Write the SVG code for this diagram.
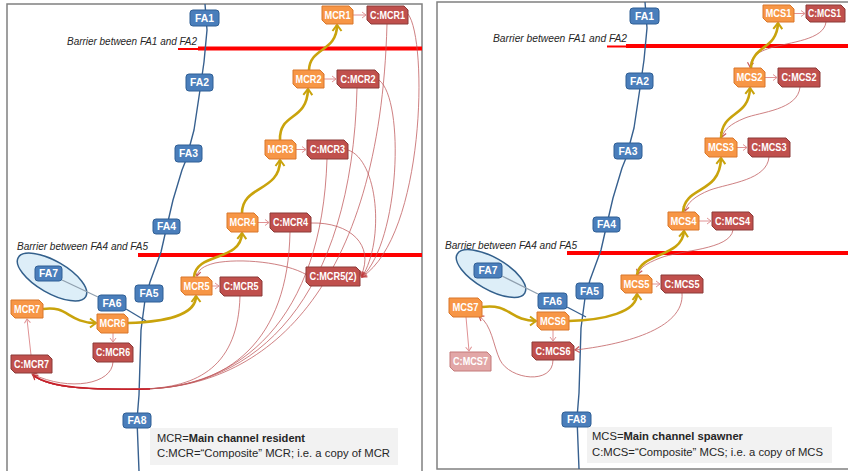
<svg xmlns="http://www.w3.org/2000/svg" width="848" height="471" viewBox="0 0 848 471">
<defs>
<style>
.frame{fill:#fff;stroke:#808080;stroke-width:1.5}
.fa rect{fill:#4a7ebb;stroke:#2f5f95;stroke-width:1}
.fa text,.mc text,.cc text{font-family:"Liberation Sans",Arial,sans-serif;font-weight:bold;font-size:10.5px;fill:#fff;text-anchor:middle}
.mc path{fill:#f79646;stroke:#d9772a;stroke-width:1;stroke-linejoin:round}
.cc path{fill:#c0504d;stroke:#8b3a38;stroke-width:1;stroke-linejoin:round}
.cc.light path{fill:#e2a7a7;stroke:#c47b7b}
.bar{font-family:"Liberation Sans",Arial,sans-serif;font-style:italic;font-size:10.5px;fill:#262626}
.red{stroke:#ff0000;stroke-width:4;fill:none}
.redthin{stroke:#ff0000;stroke-width:2;fill:none}
.main{fill:none;stroke:#37608f;stroke-width:1.4;stroke-linejoin:round}
.ell{fill:#ddeef8;stroke:#33608c;stroke-width:1.5}
.gray{stroke:#8f9fae;stroke-width:1.2}
.yel{fill:none;stroke:#c9a30c;stroke-width:2.6;marker-end:url(#ay)}
.pk{fill:none;stroke:#e09294;stroke-width:1;marker-end:url(#ap)}
.rd{fill:none;stroke:#c05a5c;stroke-width:0.9;opacity:0.85}
.rda{fill:none;stroke:#c05a5c;stroke-width:0.9;opacity:0.85;marker-end:url(#ar)}
.leg{fill:#f2f2f2}
.lt{font-family:"Liberation Sans",Arial,sans-serif;font-size:11.5px;fill:#262626}
</style>
<marker id="ay" viewBox="-8 -6 10 12" refX="0" refY="0" markerWidth="10" markerHeight="12" markerUnits="userSpaceOnUse" orient="auto">
<path d="M-6,-4.5 L0,0 L-6,4.5" fill="none" stroke="#c9a30c" stroke-width="2"/>
</marker>
<marker id="ap" viewBox="-6 -4 8 8" refX="0" refY="0" markerWidth="8" markerHeight="8" markerUnits="userSpaceOnUse" orient="auto">
<path d="M-4,-3 L0,0 L-4,3" fill="none" stroke="#e09294" stroke-width="1"/>
</marker>
<marker id="ar" viewBox="-6 -4 8 8" refX="0" refY="0" markerWidth="8" markerHeight="8" markerUnits="userSpaceOnUse" orient="auto">
<path d="M-4.5,-3 L0,0 L-4.5,3" fill="none" stroke="#c03a3c" stroke-width="1.2"/>
</marker>
</defs>

<!-- frames -->
<rect class="frame" x="7" y="4" width="415" height="480"/>
<rect class="frame" x="437" y="2" width="420" height="467"/>

<!-- legends -->
<g id="legend-left">
<rect class="leg" x="150" y="428" width="248" height="37"/>
<text class="lt" x="157" y="442" textLength="148" lengthAdjust="spacingAndGlyphs">MCR=<tspan font-weight="bold">Main channel resident</tspan></text>
<text class="lt" x="157" y="457" textLength="233" lengthAdjust="spacingAndGlyphs">C:MCR=“Composite” MCR; i.e. a copy of MCR</text>
</g>
<g id="legend-right">
<rect class="leg" x="587" y="427" width="245" height="36"/>
<text class="lt" x="592" y="440" textLength="151" lengthAdjust="spacingAndGlyphs">MCS=<tspan font-weight="bold">Main channel spawner</tspan></text>
<text class="lt" x="592" y="456" textLength="231" lengthAdjust="spacingAndGlyphs">C:MCS=“Composite” MCS; i.e. a copy of MCS</text>
</g>

<!-- barriers -->
<g id="barriers">
<text class="bar" x="67" y="45" textLength="130" lengthAdjust="spacingAndGlyphs">Barrier between FA1 and FA2</text>
<path class="redthin" d="M178,49 H200"/>
<path class="red" d="M198,48.5 H422"/>
<text class="bar" x="17" y="250" textLength="131" lengthAdjust="spacingAndGlyphs">Barrier between FA4 and FA5</text>
<path class="red" d="M138,255 H422"/>
<text class="bar" x="493" y="42" textLength="134" lengthAdjust="spacingAndGlyphs">Barrier between FA1 and FA2</text>
<path class="redthin" d="M607,46.5 H628"/>
<path class="red" d="M626,46 H848"/>
<text class="bar" x="445" y="249" textLength="132" lengthAdjust="spacingAndGlyphs">Barrier between FA4 and FA5</text>
<path class="red" d="M567,253 H848"/>
</g>

<!-- ellipses -->
<ellipse class="ell" cx="52" cy="277" rx="39" ry="16" transform="rotate(30 52 277)"/>
<ellipse class="ell" cx="491" cy="273.5" rx="39" ry="16" transform="rotate(30 491 273.5)"/>

<g id="connectors">
<!-- FA lines -->
<path class="main" d="M205,4 L207,30 L204,62 L200,90 L194,130 L186,160 L182,170 L173,200 L166,230 L161,252 L150,282 L145,300 L141,330 L139,395 L137,420 L139,471"/>
<path class="main" d="M645,2 L647,28 L644,60 L640,88 L634,128 L626,158 L622,168 L613,198 L606,228 L601,250 L590,280 L585,298 L581,328 L579,393 L577,418 L579,469"/>
<path class="gray" d="M62,280 L98,297"/>
<path class="main" d="M126,309 L146,321"/>
<path class="gray" d="M502,276 L538,294"/>
<path class="main" d="M567,307 L586,317"/>

<!-- left thin red curves -->
<path class="rd" d="M240,296 C238,365 200,388 140,389 C90,390 50,388 34,376"/>
<path class="rd" d="M290,232 C288,340 230,389 140,389 C90,390 50,388 34,376"/>
<path class="rd" d="M327,159 C322,320 240,389 140,389 C90,390 50,388 34,376"/>
<path class="rd" d="M357,88 C352,300 255,389 140,389 C90,390 50,388 34,376"/>
<path class="rd" d="M387,24 C380,290 265,389 140,389 C90,390 50,388 34,376"/>
<path class="rda" d="M113,362 C112,384 70,392 32,374"/>
<path fill="none" stroke="#c8202a" stroke-width="1.6" d="M150,389 C90,390 50,388 33,375" marker-end="url(#ar)"/>
<path class="rda" d="M311,223 C350,222 375,245 361,276"/>
<path class="rda" d="M348,150 C378,160 385,240 362,277"/>
<path class="rda" d="M379,80 C405,100 400,240 362,277"/>
<path class="rda" d="M408,14 C428,40 425,235 362,277"/>
<path class="rda" d="M307,275 C285,262 240,258 215,263 C203,266 198,270 197,276"/>

<!-- right thin red curves -->
<path class="rda" d="M826,22 C824,40 790,42 770,48 C755,53 751,58 750,67"/>
<path class="rda" d="M800,87 C798,110 760,112 745,118 C730,124 724,130 722,137"/>
<path class="rda" d="M769,157 C767,180 730,183 710,190 C695,196 687,203 685,211"/>
<path class="rda" d="M733,230 C730,250 680,250 660,258 C645,264 640,268 638,274"/>
<path class="rda" d="M682,293 C685,330 620,345 575,350"/>
<path class="rda" d="M553,360 C553,385 510,380 500,360 C493,345 492,325 479,316"/>

<!-- pink short arrows -->
<path class="pk" d="M353,15 L366,15"/>
<path class="pk" d="M324,79 L336,79"/>
<path class="pk" d="M296,149.5 L306,149.5"/>
<path class="pk" d="M258,222.5 L269,222.5"/>
<path class="pk" d="M212,286 L219,286"/>
<path class="pk" d="M113,333 L113,342"/>
<path class="pk" d="M31,355 L27,319"/>
<path class="pk" d="M794,13.5 L805,13.5"/>
<path class="pk" d="M765,77.5 L777,77.5"/>
<path class="pk" d="M737,147.5 L747,147.5"/>
<path class="pk" d="M699,221 L711,221"/>
<path class="pk" d="M652,284 L660,284"/>
<path class="pk" d="M553,330 L553,341"/>
<path class="pk" d="M466,317 L469,351"/>

<!-- yellow main arrows -->
<path class="yel" d="M43,309 C68,305 68,323 96,323"/>
<path class="yel" d="M128,323 C165,322 196,315 196,296"/>
<path class="yel" d="M194,277 C196,252 241,262 242,233"/>
<path class="yel" d="M242,213 C242,185 280,192 280,160"/>
<path class="yel" d="M280,140 C279,112 307,122 308,89"/>
<path class="yel" d="M309,70 C310,47 337,52 337,25"/>
<path class="yel" d="M482,307 C510,303 510,321 536,321"/>
<path class="yel" d="M569,321 C605,320 637,312 637,294"/>
<path class="yel" d="M637,275 C640,252 682,258 684,231"/>
<path class="yel" d="M683,212 C685,185 720,195 721,158"/>
<path class="yel" d="M721,138 C722,110 749,118 750,88"/>
<path class="yel" d="M751,68 C752,45 777,50 778,23"/>
</g>

<!-- FA nodes left -->
<g id="L-FA1" class="fa"><rect x="190" y="10" width="29" height="16" rx="3"/><text x="204.5" y="21.8" textLength="19" lengthAdjust="spacingAndGlyphs">FA1</text></g>
<g id="L-FA2" class="fa"><rect x="186" y="74" width="27" height="17" rx="3"/><text x="199.5" y="86.3" textLength="19" lengthAdjust="spacingAndGlyphs">FA2</text></g>
<g id="L-FA3" class="fa"><rect x="175" y="145" width="27" height="17" rx="3"/><text x="188.5" y="157.3" textLength="19" lengthAdjust="spacingAndGlyphs">FA3</text></g>
<g id="L-FA4" class="fa"><rect x="153" y="219" width="27" height="15" rx="3"/><text x="166.5" y="230.3" textLength="19" lengthAdjust="spacingAndGlyphs">FA4</text></g>
<g id="L-FA5" class="fa"><rect x="135" y="285" width="28" height="17" rx="3"/><text x="149" y="297.3" textLength="19" lengthAdjust="spacingAndGlyphs">FA5</text></g>
<g id="L-FA6" class="fa"><rect x="98" y="295" width="28" height="16" rx="3"/><text x="112" y="306.8" textLength="19" lengthAdjust="spacingAndGlyphs">FA6</text></g>
<g id="L-FA7" class="fa"><rect x="35" y="266" width="27" height="15" rx="3"/><text x="48.5" y="277.3" textLength="19" lengthAdjust="spacingAndGlyphs">FA7</text></g>
<g id="L-FA8" class="fa"><rect x="123" y="413" width="28" height="15" rx="3"/><text x="137" y="424.3" textLength="19" lengthAdjust="spacingAndGlyphs">FA8</text></g>

<!-- FA nodes right -->
<g id="R-FA1" class="fa"><rect x="630" y="8" width="29" height="16" rx="3"/><text x="644.5" y="19.8" textLength="19" lengthAdjust="spacingAndGlyphs">FA1</text></g>
<g id="R-FA2" class="fa"><rect x="626" y="73" width="27" height="16" rx="3"/><text x="639.5" y="84.8" textLength="19" lengthAdjust="spacingAndGlyphs">FA2</text></g>
<g id="R-FA3" class="fa"><rect x="614" y="143" width="28" height="16" rx="3"/><text x="628" y="154.8" textLength="19" lengthAdjust="spacingAndGlyphs">FA3</text></g>
<g id="R-FA4" class="fa"><rect x="593" y="217" width="27" height="15" rx="3"/><text x="606.5" y="228.3" textLength="19" lengthAdjust="spacingAndGlyphs">FA4</text></g>
<g id="R-FA5" class="fa"><rect x="576" y="283" width="27" height="16" rx="3"/><text x="589.5" y="294.8" textLength="19" lengthAdjust="spacingAndGlyphs">FA5</text></g>
<g id="R-FA6" class="fa"><rect x="538" y="293" width="29" height="16" rx="3"/><text x="552.5" y="304.8" textLength="19" lengthAdjust="spacingAndGlyphs">FA6</text></g>
<g id="R-FA7" class="fa"><rect x="474" y="263" width="28" height="15" rx="3"/><text x="488" y="274.3" textLength="19" lengthAdjust="spacingAndGlyphs">FA7</text></g>
<g id="R-FA8" class="fa"><rect x="562" y="412" width="29" height="15" rx="3"/><text x="576.5" y="423.3" textLength="19" lengthAdjust="spacingAndGlyphs">FA8</text></g>

<!-- MCR nodes left -->
<g id="MCR1" class="mc"><path d="M322,6 h27 l4,4 v14 h-27 l-4,-4z"/><text x="337.5" y="18.8" textLength="26" lengthAdjust="spacingAndGlyphs">MCR1</text></g>
<g id="C-MCR1" class="cc"><path d="M367,6 h37 l4,4 v14 h-37 l-4,-4z"/><text x="387.5" y="18.8" textLength="35" lengthAdjust="spacingAndGlyphs">C:MCR1</text></g>
<g id="MCR2" class="mc"><path d="M293,70 h27 l4,4 v14 h-27 l-4,-4z"/><text x="308.5" y="82.8" textLength="26" lengthAdjust="spacingAndGlyphs">MCR2</text></g>
<g id="C-MCR2" class="cc"><path d="M337,70 h38 l4,4 v14 h-38 l-4,-4z"/><text x="358" y="82.8" textLength="35" lengthAdjust="spacingAndGlyphs">C:MCR2</text></g>
<g id="MCR3" class="mc"><path d="M265,140 h27 l4,4 v15 h-27 l-4,-4z"/><text x="280.5" y="153.3" textLength="26" lengthAdjust="spacingAndGlyphs">MCR3</text></g>
<g id="C-MCR3" class="cc"><path d="M307,140 h37 l4,4 v15 h-37 l-4,-4z"/><text x="327.5" y="153.3" textLength="35" lengthAdjust="spacingAndGlyphs">C:MCR3</text></g>
<g id="MCR4" class="mc"><path d="M227,213 h27 l4,4 v15 h-27 l-4,-4z"/><text x="242.5" y="226.3" textLength="26" lengthAdjust="spacingAndGlyphs">MCR4</text></g>
<g id="C-MCR4" class="cc"><path d="M270,213 h37 l4,4 v15 h-37 l-4,-4z"/><text x="290.5" y="226.3" textLength="35" lengthAdjust="spacingAndGlyphs">C:MCR4</text></g>
<g id="MCR5" class="mc"><path d="M181,277 h27 l4,4 v14 h-27 l-4,-4z"/><text x="196.5" y="289.8" textLength="26" lengthAdjust="spacingAndGlyphs">MCR5</text></g>
<g id="C-MCR5" class="cc"><path d="M220,277 h38 l4,4 v15 h-38 l-4,-4z"/><text x="241" y="290.3" textLength="35" lengthAdjust="spacingAndGlyphs">C:MCR5</text></g>
<g id="C-MCR5-2" class="cc"><path d="M306,267 h50 l4,4 v15 h-50 l-4,-4z"/><text x="333" y="280.3" textLength="47" lengthAdjust="spacingAndGlyphs">C:MCR5(2)</text></g>
<g id="MCR6" class="mc"><path d="M97,314 h27 l4,4 v15 h-27 l-4,-4z"/><text x="112.5" y="327.3" textLength="26" lengthAdjust="spacingAndGlyphs">MCR6</text></g>
<g id="C-MCR6" class="cc"><path d="M93,343 h36 l4,4 v15 h-36 l-4,-4z"/><text x="113" y="356.3" textLength="34" lengthAdjust="spacingAndGlyphs">C:MCR6</text></g>
<g id="MCR7" class="mc"><path d="M11,300 h28 l4,4 v14 h-28 l-4,-4z"/><text x="27" y="312.8" textLength="26" lengthAdjust="spacingAndGlyphs">MCR7</text></g>
<g id="C-MCR7" class="cc"><path d="M11,355 h37 l4,4 v14 h-37 l-4,-4z"/><text x="31.5" y="367.8" textLength="35" lengthAdjust="spacingAndGlyphs">C:MCR7</text></g>

<!-- MCS nodes right -->
<g id="MCS1" class="mc"><path d="M763,5 h27 l4,4 v13 h-27 l-4,-4z"/><text x="778.5" y="17.3" textLength="26" lengthAdjust="spacingAndGlyphs">MCS1</text></g>
<g id="C-MCS1" class="cc"><path d="M806,5 h35 l4,4 v13 h-35 l-4,-4z"/><text x="824.5" y="17.3" textLength="33" lengthAdjust="spacingAndGlyphs">C:MCS1</text></g>
<g id="MCS2" class="mc"><path d="M734,68 h27 l4,4 v15 h-27 l-4,-4z"/><text x="749.5" y="81.3" textLength="26" lengthAdjust="spacingAndGlyphs">MCS2</text></g>
<g id="C-MCS2" class="cc"><path d="M778,68 h38 l4,4 v15 h-38 l-4,-4z"/><text x="799" y="81.3" textLength="35" lengthAdjust="spacingAndGlyphs">C:MCS2</text></g>
<g id="MCS3" class="mc"><path d="M705,138 h28 l4,4 v15 h-28 l-4,-4z"/><text x="721" y="151.3" textLength="26" lengthAdjust="spacingAndGlyphs">MCS3</text></g>
<g id="C-MCS3" class="cc"><path d="M748,138 h38 l4,4 v15 h-38 l-4,-4z"/><text x="769" y="151.3" textLength="35" lengthAdjust="spacingAndGlyphs">C:MCS3</text></g>
<g id="MCS4" class="mc"><path d="M668,212 h27 l4,4 v14 h-27 l-4,-4z"/><text x="683.5" y="224.8" textLength="26" lengthAdjust="spacingAndGlyphs">MCS4</text></g>
<g id="C-MCS4" class="cc"><path d="M712,212 h37 l4,4 v14 h-37 l-4,-4z"/><text x="732.5" y="224.8" textLength="35" lengthAdjust="spacingAndGlyphs">C:MCS4</text></g>
<g id="MCS5" class="mc"><path d="M621,275 h27 l4,4 v14 h-27 l-4,-4z"/><text x="636.5" y="287.8" textLength="26" lengthAdjust="spacingAndGlyphs">MCS5</text></g>
<g id="C-MCS5" class="cc"><path d="M661,275 h38 l4,4 v14 h-38 l-4,-4z"/><text x="682" y="287.8" textLength="35" lengthAdjust="spacingAndGlyphs">C:MCS5</text></g>
<g id="MCS6" class="mc"><path d="M537,312 h28 l4,4 v14 h-28 l-4,-4z"/><text x="553" y="324.8" textLength="26" lengthAdjust="spacingAndGlyphs">MCS6</text></g>
<g id="C-MCS6" class="cc"><path d="M532,342 h38 l4,4 v14 h-38 l-4,-4z"/><text x="553" y="354.8" textLength="35" lengthAdjust="spacingAndGlyphs">C:MCS6</text></g>
<g id="MCS7" class="mc"><path d="M449,298 h29 l4,4 v15 h-29 l-4,-4z"/><text x="465.5" y="311.3" textLength="26" lengthAdjust="spacingAndGlyphs">MCS7</text></g>
<g id="C-MCS7" class="cc light"><path d="M450,352 h37 l4,4 v15 h-37 l-4,-4z"/><text x="470.5" y="365.3" textLength="35" lengthAdjust="spacingAndGlyphs">C:MCS7</text></g>
</svg>
